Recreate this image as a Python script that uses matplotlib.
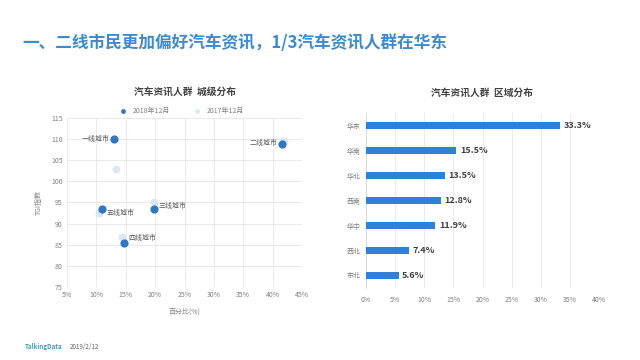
import matplotlib
matplotlib.use("Agg")
import matplotlib.pyplot as plt
from matplotlib.ticker import FuncFormatter

plt.rcParams['font.family'] = ['Noto Sans CJK SC', 'DejaVu Sans']

# Scatter data (city tiers)
cities = ["一线城市", "二线城市", "三线城市", "四线城市", "五线城市"]
pct_2018 = [13.0, 41.6, 19.8, 14.7, 11.0]
tgi_2018 = [110.0, 108.8, 93.5, 85.5, 93.5]
pct_2017 = [13.3, 42.0, 19.8, 14.4, 10.4]
tgi_2017 = [103.0, 109.5, 95.0, 86.8, 92.5]

# Bar data (regions)
regions = ["华东", "华南", "华北", "西南", "华中", "西北", "东北"]
region_share = [33.3, 15.5, 13.5, 12.8, 11.9, 7.4, 5.6]

W, H = 640, 360
fig = plt.figure(figsize=(6.4, 3.6), dpi=100)
fig.patch.set_facecolor("white")

def ax_rect(x0, y0, x1, y1):
    return [x0 / W, 1 - y1 / H, (x1 - x0) / W, (y1 - y0) / H]

blue_title = "#3a8ad4"
grid_c = "#e6e6e6"
tick_c = "#808080"

fig.text(22 / W, 1 - 43 / H, "一、二线市民更加偏好汽车资讯，1/3汽车资讯人群在华东",
         color=blue_title, fontsize=12, fontweight="bold", va="center", ha="left")

# ---- Left scatter
ax1 = fig.add_axes(ax_rect(67, 118, 302, 287))
ax1.set_xlim(5, 45)
ax1.set_ylim(75, 115)
ax1.set_xticks(range(5, 46, 5))
ax1.set_yticks(range(75, 116, 5))
ax1.xaxis.set_major_formatter(FuncFormatter(lambda v, p: f"{int(v)}%"))
ax1.grid(True, color=grid_c, linewidth=0.6)
ax1.set_axisbelow(True)
for s in ax1.spines.values():
    s.set_visible(False)
ax1.tick_params(length=0, labelsize=5, colors=tick_c, pad=3)
ax1.scatter(pct_2017, tgi_2017, s=22, color="#dbe7f5", zorder=2, label="2017年12月")
ax1.scatter(pct_2018, tgi_2018, s=24, color="#2e78c2", zorder=3, label="2018年12月")
offsets = {
    "一线城市": (-3, 0, "right", "center"),
    "二线城市": (-3, 1, "right", "center"),
    "三线城市": (3, 2, "left", "center"),
    "四线城市": (3, 3, "left", "center"),
    "五线城市": (3, -3, "left", "center"),
}
for c, x, y in zip(cities, pct_2018, tgi_2018):
    dx, dy, ha, va = offsets[c]
    ax1.annotate(c, (x, y), xytext=(dx, dy), textcoords="offset points",
                 fontsize=5, color="#595959", ha=ha, va=va)
ax1.set_xlabel("百分比(%)", fontsize=5, color=tick_c, labelpad=6)
ax1.set_ylabel("TGI指数", fontsize=5, color=tick_c, labelpad=6)
fig.text(185 / W, 1 - 92 / H, "汽车资讯人群  城级分布", fontsize=7, fontweight="bold",
         color="#404040", ha="center", va="center")
h, l = ax1.get_legend_handles_labels()
leg = fig.legend([h[1], h[0]], [l[1], l[0]], loc="center", bbox_to_anchor=(180 / W, 1 - 111 / H),
                 ncol=2, frameon=False, fontsize=5, markerscale=0.5, handletextpad=0.3,
                 columnspacing=3, labelcolor="#808080")

# ---- Right bar chart
ax2 = fig.add_axes(ax_rect(366, 113, 599, 288))
ypos = list(range(len(regions)))
ax2.barh(ypos, region_share, height=0.25, color="#2f80d8", zorder=3)
ax2.set_yticks(ypos)
ax2.set_yticklabels(regions)
ax2.set_ylim(len(regions) - 0.5, -0.5)
ax2.set_xlim(0, 40)
ax2.set_xticks(range(0, 41, 5))
ax2.xaxis.set_major_formatter(FuncFormatter(lambda v, p: f"{int(v)}%"))
ax2.grid(True, axis="x", color=grid_c, linewidth=0.6)
ax2.set_axisbelow(True)
for s in ["top", "right", "bottom"]:
    ax2.spines[s].set_visible(False)
ax2.spines["left"].set_color("#d9d9d9")
ax2.spines["left"].set_linewidth(0.6)
ax2.tick_params(length=0, labelsize=5, colors=tick_c, pad=4)
ax2.tick_params(axis="x", pad=6)
for y, v in zip(ypos, region_share):
    ax2.text(v + 0.6, y, f"{v}%", fontsize=6.5, fontweight="bold", color="#404040",
             va="center", ha="left")
fig.text(482 / W, 1 - 93 / H, "汽车资讯人群  区域分布", fontsize=7, fontweight="bold",
         color="#404040", ha="center", va="center")

# footer
fig.text(25 / W, 1 - 347 / H, "TalkingData", fontsize=4.5, color="#3aa0b8", va="center",
         fontweight="bold")
fig.text(70 / W, 1 - 347 / H, "2019/2/12", fontsize=4.5, color="#666666", va="center")

fig.savefig("out.png", dpi=100)
